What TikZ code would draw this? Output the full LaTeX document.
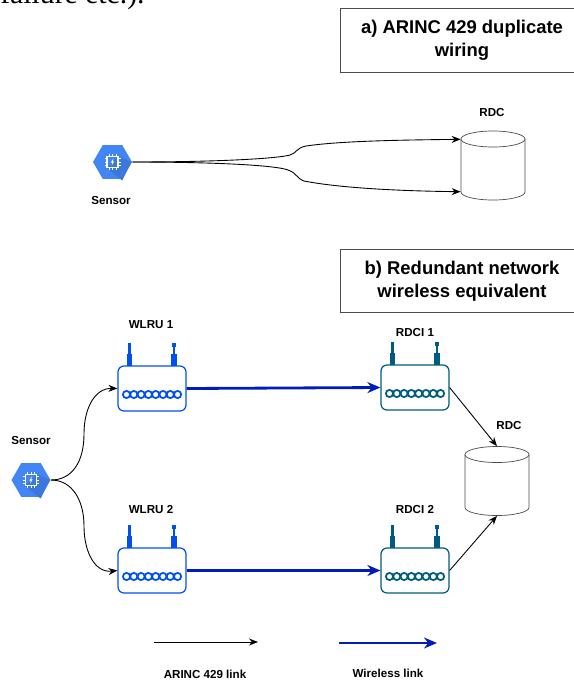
\documentclass[tikz,border=0pt]{standalone}
\usepackage{fontspec}
\setmainfont{Liberation Sans}
\newfontfamily\serifpart{Liberation Serif}
\usetikzlibrary{shapes.geometric, arrows.meta}
\definecolor{wlrublue}{HTML}{0050EF}
\definecolor{rdciteal}{HTML}{005B80}
\definecolor{linkblue}{HTML}{001DBC}
\definecolor{chipblue}{HTML}{4285F4}
\definecolor{chipdark}{HTML}{3B78DC}
\tikzset{
    lbl/.style={font=\bfseries\fontsize{6.6}{8}\selectfont, inner sep=0pt},
    titlebox/.style={draw=black!70, line width=0.4pt, minimum width=4.88cm, minimum height=1.27cm, align=center, inner sep=0pt, font=\bfseries\fontsize{10.5}{12.8}\selectfont},
    routerbox/.style={draw=#1, line width=0.7pt, rounded corners=1.2mm, minimum width=1.36cm, minimum height=0.9cm, inner sep=0pt},
    hexbox/.style={regular polygon, regular polygon sides=6, fill=chipblue, minimum size=0.78cm, inner sep=0pt},
    storebox/.style={minimum width=1.28cm, minimum height=1.38cm, inner sep=0pt},
    wirelink/.style={-{Stealth[length=1.8mm, width=1.4mm]}, line width=0.5pt},
    radiolink/.style={-{Stealth[length=2.6mm, width=2.2mm]}, line width=1.6pt, draw=linkblue},
}
% antennas and the chain of rings
\newcommand{\routerparts}[2]{
    \begin{scope}[shift={(#1.center)}]
        \foreach \xa in {-22.5,22} {
            \fill[#2] (\xa-2.8,-22.5) rectangle (\xa+2.8,-35);
            \fill[#2] (\xa-1.3,-35) rectangle (\xa+1.3,-42);
            \fill[#2] (\xa-1.8,-42) rectangle (\xa+1.8,-46);
        }
        \foreach \i in {0,...,7}
            \draw[#2, line width=1pt] (-25.5+7.3*\i,6) circle (3.6);
    \end{scope}
}
% chip on the hexagon
\newcommand{\chipparts}[1]{
    \begin{scope}[shift={(#1.center)}]
        \fill[chipdark] (6,-6) -- (19,0) -- (9.7,18.5) -- (-6,6) -- cycle;
        \draw[white, line width=0.6pt] (-5.5,-5.5) rectangle (5.5,5.5);
        \foreach \t in {-3.5,0,3.5} {
            \draw[white, line width=0.5pt] (\t,-5.5) -- (\t,-8);
            \draw[white, line width=0.5pt] (\t,5.5) -- (\t,8);
            \draw[white, line width=0.5pt] (-5.5,\t) -- (-8,\t);
            \draw[white, line width=0.5pt] (5.5,\t) -- (8,\t);
        }
        \fill[white] (0.8,-3.5) -- (-1.6,0.6) -- (-0.2,0.6) -- (-0.8,3.5) -- (1.6,-0.6) -- (0.2,-0.6) -- cycle;
    \end{scope}
}
% can drawn over its node
\newcommand{\storeparts}[1]{
    \begin{scope}[shift={(#1.center)}]
        \draw[black!70, line width=0.4pt, fill=white] (-32,-26.5) -- (-32,26.5) arc (180:0:32 and 8) -- (32,-26.5);
        \draw[black!70, line width=0.4pt, fill=white] (0,-26.5) ellipse (32 and 8);
    \end{scope}
}
\begin{document}
\begin{tikzpicture}[x=0.02cm, y=-0.02cm]
    \useasboundingbox (0,0) rectangle (574,681);
    \node[anchor=base west, inner sep=0pt, font=\serifpart\fontsize{16.9}{18}\selectfont] (cuttext) at (0,3) {failure etc.).};

    % a) duplicate wiring
    \node[titlebox] (titlea) at (462,40.5) {a) ARINC 429 duplicate\\wiring};
    \node[hexbox] (sensora) at (112.5,162) {};
    \chipparts{sensora}
    \node[lbl] (sensoralbl) at (111,200) {Sensor};
    \node[storebox] (rdca) at (493,165.5) {};
    \storeparts{rdca}
    \node[lbl] (rdcalbl) at (492,112) {RDC};
    \draw[wirelink] (sensora.east) .. controls (210,162) and (275,159) .. (290,155)
        .. controls (297,153) and (296,148) .. (306,146) .. controls (340,141) and (400,140) .. (rdca.141);
    \draw[wirelink] (sensora.east) .. controls (210,162) and (275,165) .. (288,170)
        .. controls (297,173) and (296,178) .. (304,181) .. controls (340,188) and (400,191) .. (rdca.219);

    % b) wireless equivalent
    \node[titlebox] (titleb) at (462,281) {b) Redundant network\\wireless equivalent};
    \node[hexbox] (sensorb) at (31,480) {};
    \chipparts{sensorb}
    \node[lbl] (sensorblbl) at (31,440) {Sensor};
    \node[routerbox=wlrublue] (wlru1) at (152,388.5) {};
    \node[routerbox=wlrublue] (wlru2) at (152,570.5) {};
    \node[routerbox=rdciteal] (rdci1) at (415,387.5) {};
    \node[routerbox=rdciteal] (rdci2) at (415,570.5) {};
    \routerparts{wlru1}{wlrublue}
    \routerparts{wlru2}{wlrublue}
    \routerparts{rdci1}{rdciteal}
    \routerparts{rdci2}{rdciteal}
    \node[lbl] (wlru1lbl) at (151,325) {WLRU 1};
    \node[lbl] (wlru2lbl) at (151,509) {WLRU 2};
    \node[lbl] (rdci1lbl) at (415,332) {RDCI 1};
    \node[lbl] (rdci2lbl) at (415,509) {RDCI 2};
    \node[storebox] (rdcb) at (497,481) {};
    \storeparts{rdcb}
    \node[lbl] (rdcblbl) at (509,425) {RDC};

    \draw[wirelink] (sensorb.east) .. controls (72,480) and (84,462) .. (84,434)
        .. controls (84,408) and (95,388) .. (wlru1.west);
    \draw[wirelink] (sensorb.east) .. controls (72,480) and (84,500) .. (84,526)
        .. controls (84,552) and (95,573) .. (wlru2.west);
    \draw[radiolink] (wlru1.east) -- (rdci1.west);
    \draw[radiolink] (wlru2.east) -- (rdci2.west);
    \draw[wirelink] (rdci1.east) -- (rdcb.north);
    \draw[wirelink] (rdci2.east) -- (rdcb.south);

    % legend
    \coordinate (wirefrom) at (154,642);
    \coordinate (wireto) at (258,642);
    \coordinate (radiofrom) at (339,643);
    \coordinate (radioto) at (437,643);
    \draw[wirelink] (wirefrom) -- (wireto);
    \draw[radiolink] (radiofrom) -- (radioto);
    \node[lbl] (wirelbl) at (205,674) {ARINC 429 link};
    \node[lbl] (radiolbl) at (388,673) {Wireless link};
\end{tikzpicture}
\end{document}
